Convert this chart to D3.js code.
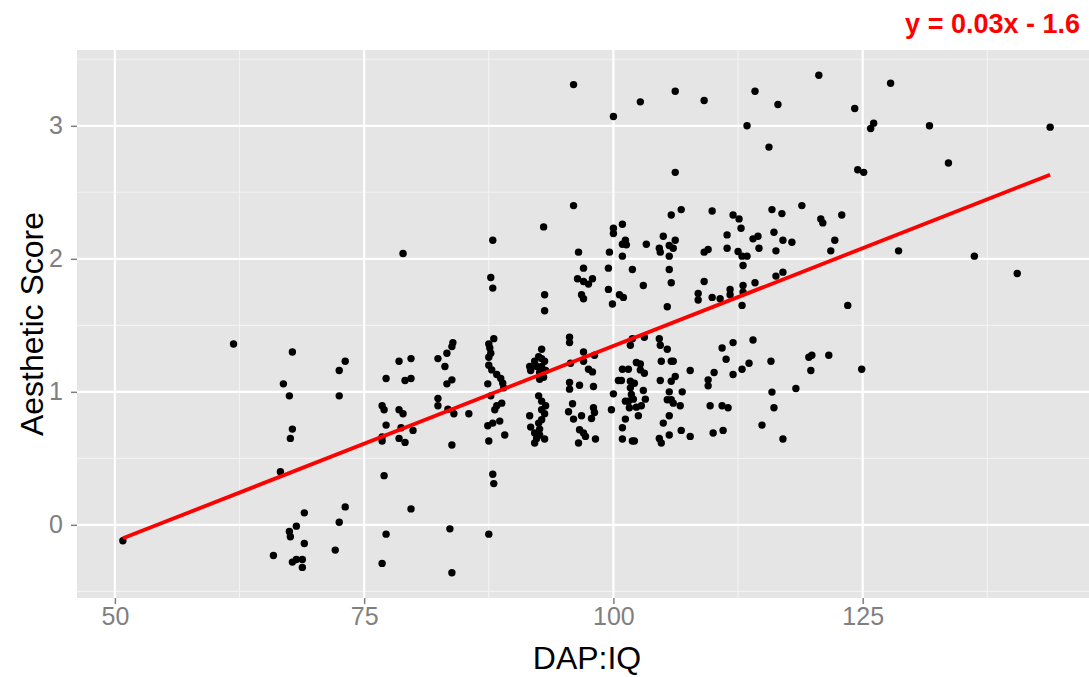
<!DOCTYPE html>
<html><head><meta charset="utf-8">
<script src="https://cdn.jsdelivr.net/npm/d3@7"></script>
<style>html,body{margin:0;padding:0;background:#fff;}svg{display:block;}</style>
</head><body>
<svg id="chart" width="1089" height="677"></svg>
<script>
// ---- data ----
const dapIQ = [
61.9,50.8,78.9,
67.8,73.1,72.5,66.9,67.5,72.5,67.8,67.6,66.6,73.1,69.0,72.5,68.2,67.5,67.6,69.0,72.1,65.9,67.8,68.2,68.8,68.8,
78.5,79.7,82.4,77.2,79.1,79.7,76.8,77.0,78.5,78.9,82.4,82.4,77.2,78.7,79.9,76.8,76.8,78.5,79.1,77.0,79.7,77.2,76.8,
96.0,96.0,93.0,87.9,96.5,99.6,97.0,99.5,96.4,97.0,97.5,97.9,87.7,87.9,93.1,93.1,96.8,97.0,99.5,99.9,
83.9,83.8,83.3,83.1,83.8,83.3,83.4,84.0,85.5,83.8,83.6,83.8,
88.0,87.5,87.6,87.7,87.5,87.5,87.8,88.3,88.7,88.9,87.4,89.0,87.7,88.8,88.3,88.1,88.6,87.9,87.4,89.1,87.5,87.9,88.0,87.5,
92.8,92.5,92.8,92.1,93.1,91.6,92.3,92.8,91.7,92.6,93.2,93.0,92.6,92.5,92.8,93.2,92.8,93.1,91.6,92.8,92.5,91.7,92.6,92.1,92.6,92.3,93.1,92.1,
95.6,95.6,97.0,98.1,97.0,95.7,97.5,97.9,95.6,96.6,98.0,95.6,95.9,95.5,98.0,98.1,96.8,96.0,97.8,96.6,97.0,97.2,98.2,96.5,
100.0,102.7,106.2,109.1,114.2,116.5,113.4,115.6,106.2,106.8,105.8,109.9,112.0,112.6,115.9,100.0,100.0,100.9,105.0,112.8,111.4,116.1,101.2,100.9,101.3,103.3,106.2,105.6,106.0,104.6,104.7,114.0,114.5,111.4,114.6,116.3,100.9,105.6,109.1,109.5,112.5,112.9,113.4,101.9,105.6,113.0,103.0,105.8,109.1,108.5,108.5,100.6,101.0,105.4,109.9,110.7,111.7,111.7,113.0,113.0,114.2,112.9,116.3,117.0,
101.9,101.7,103.1,104.6,104.7,105.4,102.3,102.7,102.7,103.1,100.9,101.5,104.8,105.8,106.0,107.7,100.5,100.8,101.7,102.1,104.7,105.8,106.2,100.0,99.8,101.7,101.8,101.5,101.2,102.0,103.0,103.2,102.3,102.8,101.6,101.2,100.9,102.5,100.9,101.9,102.1,105.6,105.4,105.8,106.0,106.7,106.9,105.6,105.0,104.6,104.8,105.6,106.8,107.7,109.7,109.5,109.5,110.1,110.9,112.0,111.3,112.0,112.9,113.6,114.0,110.9,111.5,110.0,111.0,115.8,115.9,116.1,114.9,
120.6,127.8,124.2,126.1,125.8,131.7,124.5,125.1,133.6,118.9,116.9,120.8,121.0,122.9,117.0,117.9,122.2,121.8,128.6,123.5,
119.6,119.9,121.6,119.8,124.9,118.3,117.0,
143.8,136.2,140.5
];
const aestheticScore = [
1.36,-0.12,2.04,
1.30,1.23,1.16,1.06,0.97,0.97,0.72,0.65,0.40,0.135,0.09,0.02,-0.01,-0.05,-0.09,-0.14,-0.19,-0.23,-0.28,-0.26,-0.26,-0.32,
1.23,1.25,1.25,1.10,1.085,1.10,0.895,0.865,0.865,0.835,0.95,0.895,0.75,0.73,0.71,0.66,0.63,0.65,0.62,0.37,0.12,-0.07,-0.29,
3.31,2.40,2.24,2.14,2.05,2.05,1.93,1.93,1.85,1.83,1.81,1.85,1.86,1.78,1.73,1.61,1.73,1.70,1.77,1.66,
1.37,1.34,1.29,1.19,1.09,1.06,0.87,0.835,0.835,0.60,-0.03,-0.36,
1.40,1.36,1.33,1.29,1.26,1.20,1.165,1.13,1.10,1.065,1.06,1.03,0.97,0.915,0.895,0.865,0.78,0.765,0.745,0.675,0.63,0.38,0.31,-0.07,
1.32,1.265,1.25,1.23,1.23,1.19,1.19,1.19,1.16,1.145,1.16,1.11,1.095,0.97,0.93,0.895,0.865,0.835,0.82,0.79,0.765,0.735,0.72,0.69,0.675,0.65,0.645,0.615,
1.41,1.37,1.30,1.275,1.23,1.215,1.17,1.15,1.07,1.05,1.04,1.02,0.91,0.85,0.88,0.845,0.82,0.795,0.80,0.715,0.69,0.665,0.645,0.615,
3.07,3.18,3.26,3.19,3.26,3.16,3.00,2.84,2.65,2.37,2.33,2.36,2.33,2.30,2.37,2.23,2.19,2.26,2.17,2.23,2.18,2.20,2.14,2.11,2.105,2.11,2.14,2.10,2.08,2.08,2.05,2.15,2.17,2.08,2.08,2.06,2.02,2.02,2.05,2.07,2.055,2.02,2.02,1.92,1.92,1.95,1.80,1.82,1.83,1.74,1.69,1.73,1.71,1.64,1.71,1.70,1.77,1.73,1.80,1.75,1.82,1.65,1.87,1.90,
1.40,1.35,1.41,1.40,1.35,1.32,1.22,1.21,1.165,1.14,1.17,1.17,1.23,1.23,1.23,1.16,1.085,1.085,1.08,1.065,1.085,1.08,1.115,0.985,0.865,1.03,0.98,0.93,0.93,0.945,1.01,0.945,0.885,0.895,0.88,0.795,0.73,0.82,0.645,0.63,0.63,1.00,0.94,0.94,0.915,0.895,1.00,0.82,0.765,0.65,0.615,0.675,0.71,0.665,0.895,1.09,1.045,1.145,1.33,1.37,1.245,1.13,1.17,1.215,1.39,0.895,0.88,0.69,0.71,1.23,0.998,0.88,0.75,
3.38,3.32,3.13,3.02,2.98,3.00,2.67,2.65,2.72,2.40,2.34,2.30,2.27,2.33,2.14,2.125,2.14,2.06,2.06,1.65,
1.26,1.275,1.275,1.16,1.17,1.025,0.645,
2.99,2.02,1.89
];
const xTicks = [50, 75, 100, 125];
const xMinor = [62.5, 87.5, 112.5, 137.5];
const yTicks = [0, 1, 2, 3];
const yMinor = [-0.5, 0.5, 1.5, 2.5, 3.5];
const fitSlope = 0.0294;
const fitIntercept = -1.595;
const fitLabel = "y = 0.03x - 1.6";
const xTitle = "DAP:IQ";
const yTitle = "Aesthetic Score";

// ---- layout ----
const svg = d3.select("#chart");
const pL = 77, pR = 1097, pT = 50, pB = 598;
const x = d3.scaleLinear().domain([46.2, 148.5]).range([pL, pR]);
const y = d3.scaleLinear().domain([-0.55, 3.57]).range([pB, pT]);
const font = "'Liberation Sans', Arial, sans-serif";

svg.append("rect").attr("width", 1089).attr("height", 677).attr("fill", "#fff");
svg.append("defs").append("clipPath").attr("id", "clip")
  .append("rect").attr("x", pL).attr("y", pT).attr("width", pR - pL).attr("height", pB - pT);

const panel = svg.append("g").attr("clip-path", "url(#clip)");
panel.append("rect").attr("x", pL).attr("y", pT).attr("width", pR - pL).attr("height", pB - pT).attr("fill", "#E5E5E5");

// minor grid
panel.selectAll(".xm").data(xMinor).join("line")
  .attr("x1", d => x(d)).attr("x2", d => x(d)).attr("y1", pT).attr("y2", pB)
  .attr("stroke", "#F2F2F2").attr("stroke-width", 1.1);
panel.selectAll(".ym").data(yMinor).join("line")
  .attr("y1", d => y(d)).attr("y2", d => y(d)).attr("x1", pL).attr("x2", pR)
  .attr("stroke", "#F2F2F2").attr("stroke-width", 1.1);
// major grid
panel.selectAll(".xM").data(xTicks).join("line")
  .attr("x1", d => x(d)).attr("x2", d => x(d)).attr("y1", pT).attr("y2", pB)
  .attr("stroke", "#fff").attr("stroke-width", 2.2);
panel.selectAll(".yM").data(yTicks).join("line")
  .attr("y1", d => y(d)).attr("y2", d => y(d)).attr("x1", pL).attr("x2", pR)
  .attr("stroke", "#fff").attr("stroke-width", 2.2);

// points
const pts = dapIQ.map((d, i) => [d, aestheticScore[i]]);
panel.selectAll("circle").data(pts).join("circle")
  .attr("cx", d => x(d[0])).attr("cy", d => y(d[1])).attr("r", 3.7).attr("fill", "#000");

// regression line
const xr = d3.extent(dapIQ);
panel.append("path")
  .datum(xr.map(v => [v, fitIntercept + fitSlope * v]))
  .attr("d", d3.line().x(d => x(d[0])).y(d => y(d[1])))
  .attr("stroke", "#FF0000").attr("stroke-width", 3.8).attr("fill", "none");

// axes
const xAxis = svg.append("g").attr("transform", `translate(0,${pB})`)
  .call(d3.axisBottom(x).tickValues(xTicks).tickFormat(d3.format("d")).tickSize(6).tickPadding(3));
const yAxis = svg.append("g").attr("transform", `translate(${pL},0)`)
  .call(d3.axisLeft(y).tickValues(yTicks).tickFormat(d3.format("d")).tickSize(6).tickPadding(8));
[xAxis, yAxis].forEach(g => {
  g.select(".domain").remove();
  g.selectAll(".tick line").attr("stroke", "#7F7F7F").attr("stroke-width", 1.5);
  g.selectAll(".tick text").attr("fill", "#7F7F7F").attr("font-family", font).attr("font-size", 25);
});

// titles
svg.append("text").attr("x", (pL + pR) / 2).attr("y", 669).attr("text-anchor", "middle")
  .attr("font-family", font).attr("font-size", 32).attr("fill", "#000").text(xTitle);
svg.append("text").attr("transform", `translate(43,${(pT + pB) / 2}) rotate(-90)`).attr("text-anchor", "middle")
  .attr("font-family", font).attr("font-size", 32).attr("fill", "#000").text(yTitle);
svg.append("text").attr("x", 1080).attr("y", 33).attr("text-anchor", "end")
  .attr("font-family", font).attr("font-size", 27).attr("font-weight", "bold").attr("fill", "#FF0000").text(fitLabel);
</script>
</body></html>
